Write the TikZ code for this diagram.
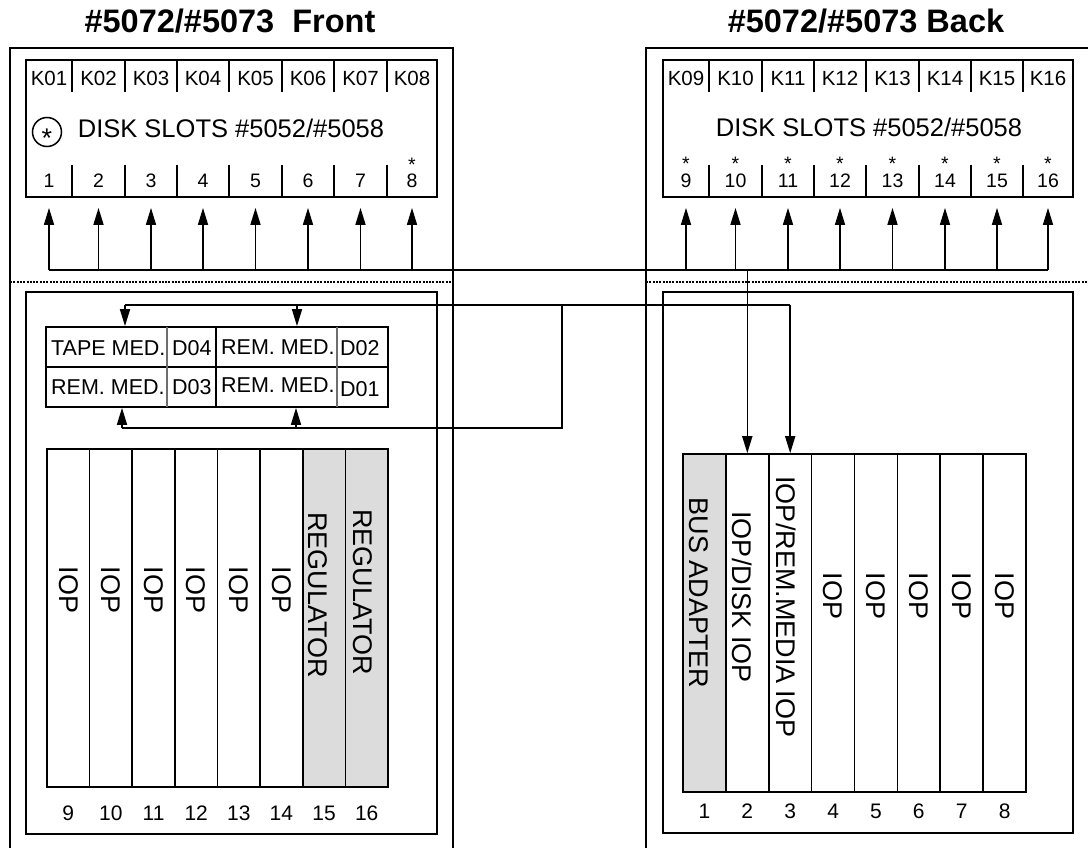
\documentclass[tikz,border=0pt]{standalone}
\usepackage{fontspec}
\setmainfont{Liberation Sans}
\usetikzlibrary{arrows.meta,positioning}

\definecolor{cardgray}{RGB}{220,220,220}
\definecolor{gridgray}{RGB}{110,110,110}

\tikzset{
  frame/.style={line width=1.8pt},
  sep/.style={line width=1.5pt, dash pattern=on 2pt off 1.3pt},
  bus/.style={line width=1.6pt},
  tip/.style={-{Triangle[length=17pt,width=10pt]}},
  divline/.style={line width=1.4pt},
  gridline/.style={line width=1.2pt, color=gridgray},
  title/.style={anchor=base, inner sep=0pt, font=\bfseries\fontsize{32.5}{36}\selectfont},
  diskbox/.style={draw, line width=1.8pt, minimum width=411pt, minimum height=137pt, inner sep=0pt},
  klabel/.style={anchor=base, inner sep=0pt, font=\fontsize{20.5}{24}\selectfont},
  disktitle/.style={anchor=base, inner sep=0pt, font=\fontsize{25.5}{30}\selectfont},
  dnum/.style={anchor=base, inner sep=0pt, font=\fontsize{19.5}{23}\selectfont},
  dtable/.style={draw, line width=1.7pt, minimum width=342pt, minimum height=80pt, inner sep=0pt},
  dtext/.style={anchor=base west, inner sep=0pt, font=\fontsize{21.5}{25}\selectfont},
  slotbox/.style={draw, line width=1.6pt, inner sep=0pt, minimum height=338pt},
  cardtext/.style={rotate=-90, inner sep=0pt, font=\fontsize{27}{31}\selectfont},
  slotnum/.style={anchor=base, inner sep=0pt, font=\fontsize{21}{25}\selectfont}
}

\begin{document}
\begin{tikzpicture}[x=1pt,y=-1pt]
\useasboundingbox (0,0) rectangle (1088,848);

% titles
\node[title] (ftitle) at (230,33) {\#5072/\#5073\ \ Front};
\node[title] (btitle) at (866,33) {\#5072/\#5073 Back};

% cabinet frames
\draw[frame] (10,848) -- (10,48) -- (453,48) -- (453,848);
\draw[frame] (646,848) -- (646,48) -- (1088,48);
\draw[sep] (10,282) -- (453,282);
\draw[sep] (646,282) -- (1088,282);
\draw[frame] (26,292) rectangle (437,834);
\draw[frame] (663,292) rectangle (1073,833);

% disk slots, front
\node[diskbox] (fdisk) at (231.5,128.5) {};
\foreach \x in {72,125,177,229,282,334,387} {
  \draw[divline] (\x,60) -- (\x,92);
  \draw[divline] (\x,165) -- (\x,197);
}
\foreach \k/\x in {1/49,2/98.5,3/151,4/203,5/255.5,6/308,7/360.5,8/412} {
  \node[klabel] (fk\k) at (\x,86) {K0\k};
  \node[dnum] (fd\k) at (\x,188) {\k};
  \coordinate (fb\k) at (\x,270);
}
\node[dnum] (fs8) at (412,172) {*};
\node[draw, circle, line width=1.5pt, minimum size=29pt, inner sep=0pt] (fmark) at (47,132) {};
\node[anchor=base, inner sep=0pt, font=\fontsize{27}{30}\selectfont] (fmarkstar) at (47,148) {*};
\node[disktitle] (fdtitle) at (231,138) {DISK SLOTS \#5052/\#5058};

% disk slots, back
\node[diskbox, minimum width=410pt] (bdisk) at (868,128.5) {};
\foreach \x in {709,762,814,866,919,971,1023} {
  \draw[divline] (\x,60) -- (\x,92);
  \draw[divline] (\x,165) -- (\x,197);
}
\foreach \k/\n/\x in {1/09/686,2/10/735.5,3/11/788,4/12/840,5/13/892.5,6/14/945,7/15/997,8/16/1048} {
  \node[klabel] (bk\k) at (\x,86) {K\n};
  \node[dnum] (bd\k) at (\x,188) {\the\numexpr\k+8\relax};
  \node[dnum] (bs\k) at (\x,171) {*};
  \coordinate (bb\k) at (\x,270);
}
\node[disktitle] (bdtitle) at (869,137) {DISK SLOTS \#5052/\#5058};

% card slots, front
\foreach \n/\x/\c in {9/68.3/white,10/110.9/white,11/153.6/white,12/196.2/white,13/238.8/white,14/281.4/white,15/324.1/cardgray,16/366.7/cardgray} {
  \node[slotbox, fill=\c, minimum width=42.6pt] (f\n) at (\x,618) {};
  \node[slotnum] (fn\n) at (\x,820) {\n};
}
\foreach \n/\x in {9/68.3,10/110.9,11/153.6,12/196.2,13/238.8,14/281.4}
  \node[cardtext] (ft\n) at (\x,590) {IOP};
\node[cardtext] (ft15) at (318,595) {REGULATOR};
\node[cardtext] (ft16) at (363,592) {REGULATOR};

% card slots, back
\foreach \n/\x/\c in {1/704.4/cardgray,2/747.3/white,3/790.2/white,4/833.1/white,5/875.9/white,6/918.8/white,7/961.7/white,8/1004.6/white} {
  \node[slotbox, fill=\c, minimum width=42.9pt] (b\n) at (\x,623) {};
  \node[slotnum] (bn\n) at (\x,818) {\n};
}
\node[cardtext] (bt1) at (699,593) {BUS ADAPTER};
\node[cardtext] (bt2) at (742,597) {IOP/DISK IOP};
\node[cardtext] (bt3) at (786,607) {IOP/REM.MEDIA IOP};
\foreach \n/\x in {4/833.1,5/875.9,6/918.8,7/961.7,8/1004.6}
  \node[cardtext] (bt\n) at (\x,596) {IOP};

% media drives
\node[dtable] (dtab) at (217,367) {};
\draw[divline] (dtab.west) -- (dtab.east);
\draw[gridline] (167,327) -- (167,407);
\draw[divline] (216,327) -- (216,407);
\draw[gridline] (337,327) -- (337,407);
\node[dtext] (dtape) at (51,355) {TAPE MED.};
\node[dtext] (dd04) at (172,355) {D04};
\node[dtext] (drem2) at (221,354) {REM. MED.};
\node[dtext] (dd02) at (340,355) {D02};
\node[dtext] (drem3) at (51,394) {REM. MED.};
\node[dtext] (dd03) at (172,394) {D03};
\node[dtext] (drem1) at (221,392) {REM. MED.};
\node[dtext] (dd01) at (340,396) {D01};

% disk bus
\foreach \k in {1,...,8} {
  \draw[bus,tip] (fb\k) -- ([yshift=-10pt]fdisk.south -| fb\k);
  \draw[bus,tip] (bb\k) -- ([yshift=-10pt]bdisk.south -| bb\k);
}
\draw[bus] (fb1) -- (bb8);
\draw[bus,tip] (b2 |- fb1) -- (b2.north);

% media bus
\coordinate (dl1) at (125,305);
\coordinate (dl2) at (297,305);
\coordinate (dl4) at (562,428);
\coordinate (dl5) at (296,428);
\coordinate (dl6) at (122,428);
\draw[bus,tip] (dl1) -- (dl1 |- dtab.north);
\draw[bus,tip] (dl2) -- (dl2 |- dtab.north);
\draw[bus] (dl1) -- (dl1 -| b3);
\draw[bus,tip] (dl1 -| b3) -- (b3.north);
\draw[bus] (dl1 -| dl4) -- (dl4) -- (dl6);
\draw[bus,tip] (dl5) -- (dl5 |- dtab.south);
\draw[bus,tip] (dl6) -- (dl6 |- dtab.south);
\end{tikzpicture}
\end{document}
